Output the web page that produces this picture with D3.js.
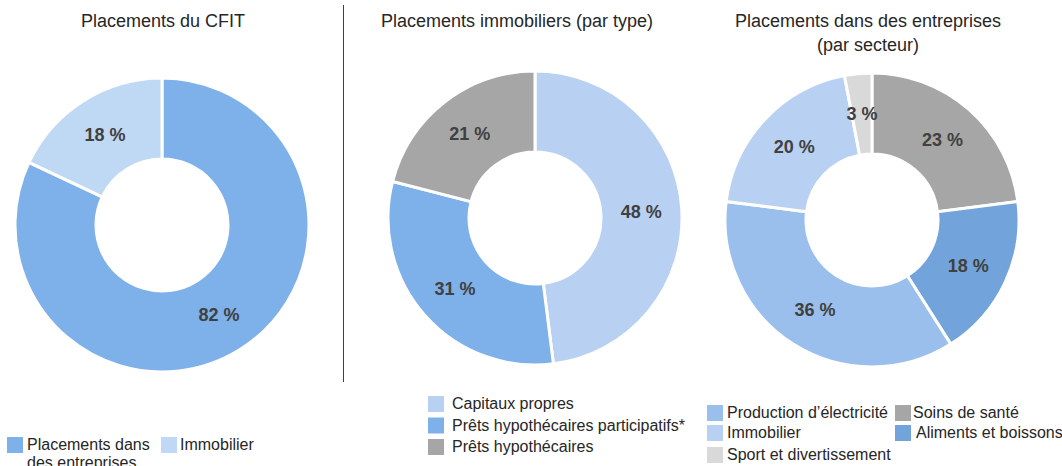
<!DOCTYPE html>
<meta charset="utf-8">
<style>
body { margin: 0; background: #fff; }
text { font-family: "Liberation Sans", Arial, sans-serif; }
.title { font-size: 18px; fill: #262626; text-anchor: middle; }
.pct { font-size: 18px; font-weight: bold; fill: #404040; text-anchor: middle; }
.legend text { font-size: 16px; fill: #262626; }
</style>
<body>
<script src="https://d3js.org/d3.v7.min.js"></script>
<svg width="1062" height="466"></svg>
<script>

// CFIT placements
var cfitLabels = ["Placements dans des entreprises", "Immobilier"];
var cfitValues = [82, 18];
var cfitColors = ["#7eb0ea", "#bfd9f5"];

// real estate by type
var immoLabels = ["Capitaux propres", "Prêts hypothécaires participatifs*", "Prêts hypothécaires"];
var immoValues = [48, 31, 21];
var immoColors = ["#b8d1f2", "#7eb0ea", "#a6a6a6"];

// companies by sector
var sectLabels = ["Soins de santé", "Aliments et boissons", "Production d’électricité", "Immobilier", "Sport et divertissement"];
var sectValues = [23, 18, 36, 20, 3];
var sectColors = ["#a6a6a6", "#72a4db", "#9abfec", "#b8d1f2", "#d9d9d9"];

var svg = d3.select("svg");

var pie = d3.pie().sort(null).value(function(d) { return d.v; });
var arc = d3.arc().innerRadius(66).outerRadius(147);

function donut(cx, cy, labels, values, colors) {
  var data = values.map(function(v, i) { return {v: v, name: labels[i], color: colors[i]}; });
  var g = svg.append("g").attr("transform", "translate(" + cx + "," + cy + ")");
  var arcs = g.selectAll("g").data(pie(data)).enter().append("g");
  arcs.append("path")
      .attr("d", arc)
      .attr("fill", function(d) { return d.data.color; })
      .attr("stroke", "#fff")
      .attr("stroke-width", 3);
  arcs.append("text")
      .attr("class", "pct")
      .attr("transform", function(d) { return "translate(" + arc.centroid(d) + ")"; })
      .attr("dy", "0.35em")
      .text(function(d) { return d.data.v + " %"; });
}

donut(162, 225, cfitLabels, cfitValues, cfitColors);
donut(535, 218, immoLabels, immoValues, immoColors);
donut(872, 220, sectLabels, sectValues, sectColors);

// titles
svg.append("text").attr("class", "title").attr("x", 163).attr("y", 27).text("Placements du CFIT");
svg.append("text").attr("class", "title").attr("x", 517).attr("y", 27).text("Placements immobiliers (par type)");
svg.append("text").attr("class", "title").attr("x", 868).attr("y", 27).text("Placements dans des entreprises");
svg.append("text").attr("class", "title").attr("x", 868).attr("y", 51).text("(par secteur)");

// divider
svg.append("line")
    .attr("x1", 343.5).attr("x2", 343.5)
    .attr("y1", 5).attr("y2", 382)
    .attr("stroke", "#404040").attr("stroke-width", 1);

function legendItem(x, y, color, lines, tx) {
  var g = svg.append("g").attr("class", "legend");
  g.append("rect").attr("x", x).attr("y", y).attr("width", 16).attr("height", 16).attr("fill", color);
  var t = g.append("text").attr("x", x + tx).attr("y", y + 13);
  lines.forEach(function(l, i) {
    t.append("tspan").attr("x", x + tx).attr("dy", i ? 18 : 0).text(l);
  });
}

// legend 1
legendItem(7, 437, cfitColors[0], ["Placements dans", "des entreprises"], 20);
legendItem(161, 437, cfitColors[1], [cfitLabels[1]], 19);

// legend 2
immoLabels.forEach(function(l, i) {
  legendItem(428, 396 + i * 21.5, immoColors[i], [l], 24);
});

// legend 3
var sectPos = [[895, 405, 18], [895, 425, 21], [707, 405, 20], [707, 425, 20], [707, 447, 20]];
sectLabels.forEach(function(l, i) {
  var p = sectPos[i];
  legendItem(p[0], p[1], sectColors[i], [l], p[2]);
});

</script>
</body>
